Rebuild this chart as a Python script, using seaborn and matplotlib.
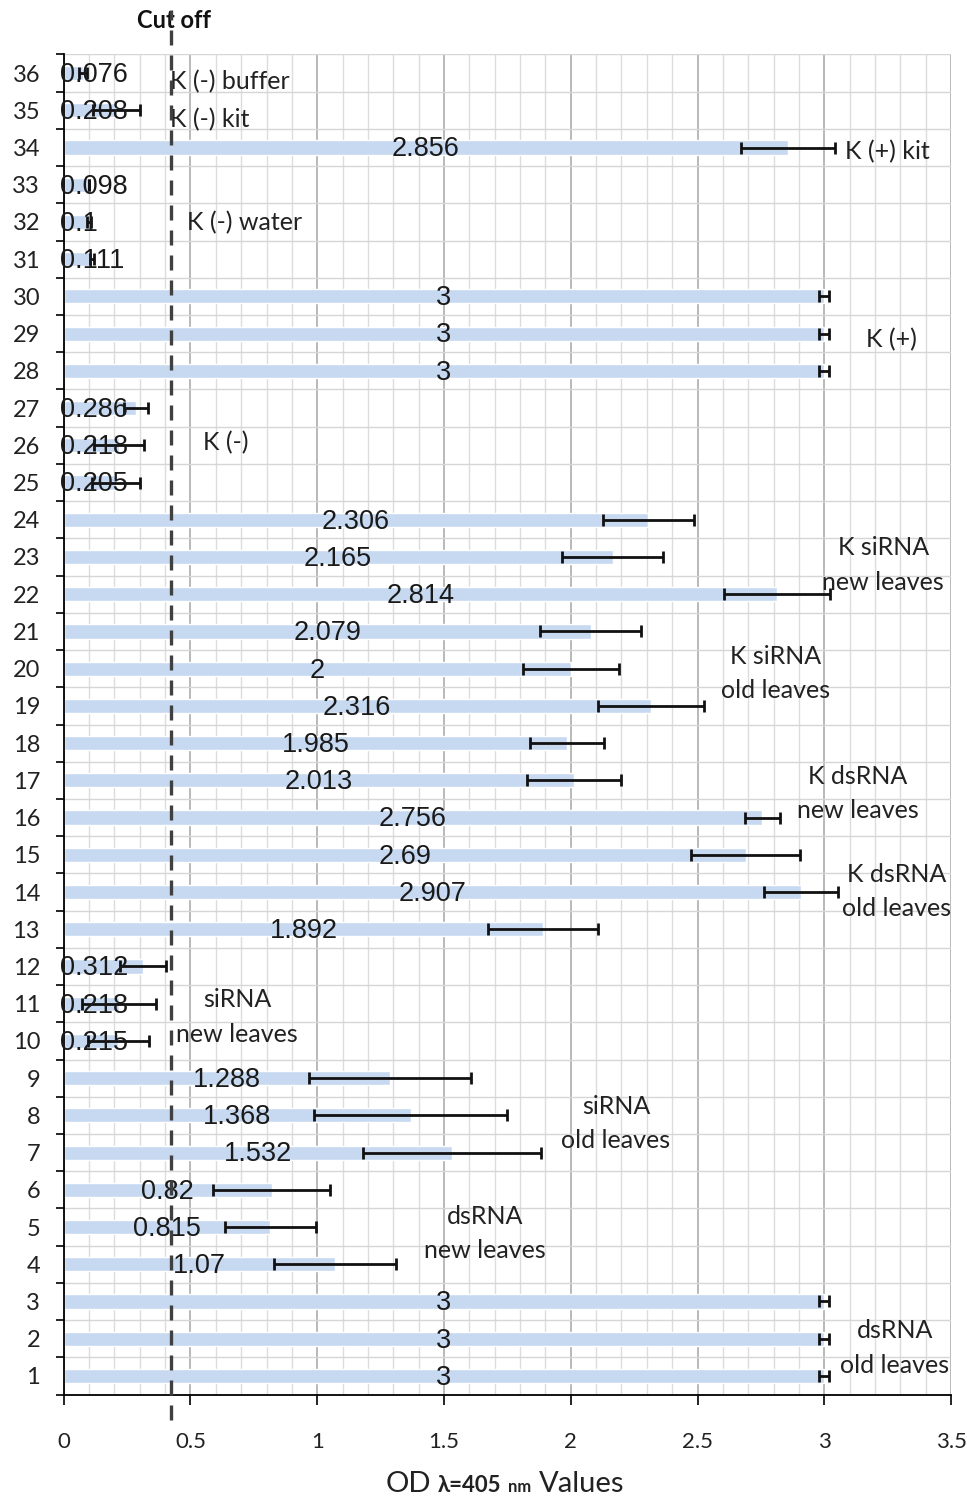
#!/usr/bin/env python3

import numpy as np
import pandas as pd
import matplotlib
matplotlib.use("Agg")
import matplotlib.pyplot as plt
from matplotlib.ticker import MultipleLocator, FixedLocator, NullFormatter
from matplotlib.offsetbox import TextArea, HPacker, AnchoredOffsetbox
import seaborn as sns

# sample numbers, bottom (1) to top (36)
SAMPLES = list(range(1, 37))
OD_VALUES = [3, 3, 3, 1.07, 0.815, 0.82, 1.532, 1.368, 1.288, 0.215, 0.218, 0.312,
             1.892, 2.907, 2.69, 2.756, 2.013, 1.985, 2.316, 2, 2.079, 2.814, 2.165, 2.306,
             0.205, 0.218, 0.286, 3, 3, 3, 0.111, 0.1, 0.098, 2.856, 0.208, 0.076]
OD_ERRORS = [0.02, 0.02, 0.02, 0.24, 0.18, 0.23, 0.35, 0.38, 0.32, 0.12, 0.145, 0.09,
             0.217, 0.146, 0.215, 0.07, 0.186, 0.147, 0.21, 0.19, 0.20, 0.21, 0.20, 0.18,
             0.095, 0.10, 0.047, 0.02, 0.02, 0.02, 0.008, 0.008, 0.0, 0.186, 0.093, 0.015]
CUTOFF = 0.424
X_TICKS = [0, 0.5, 1, 1.5, 2, 2.5, 3, 3.5]
X_TICK_LABELS = ["0", "0.5", "1", "1.5", "2", "2.5", "3", "3.5"]

GROUP_LABELS = ["K (-) buffer", "K (-) kit", "K (+) kit", "K (-) water", "K (+)", "K (-)",
                "K siRNA\nnew leaves", "K siRNA\nold leaves", "K dsRNA\nnew leaves",
                "K dsRNA\nold leaves", "siRNA\nnew leaves", "siRNA\nold leaves",
                "dsRNA\nnew leaves", "dsRNA\nold leaves"]
# layout for the group labels: (x in data units, sample-number height, alignment)
GROUP_POS = [(0.419, 35.76, "left"), (0.419, 34.74, "left"), (3.082, 33.90, "left"),
             (0.486, 31.97, "left"), (3.165, 28.83, "left"), (0.549, 26.06, "left"),
             (3.232, 22.78, "center"), (2.806, 19.87, "center"), (3.133, 16.65, "center"),
             (3.287, 14.01, "center"), (0.683, 10.64, "center"), (2.178, 7.78, "center"),
             (1.662, 4.83, "center"), (3.279, 1.75, "center")]

BAR_COLOR = "#C6D9F0"
LABEL_FONT = ["Lato", "DejaVu Sans"]
VALUE_FONT = ["Liberation Sans", "DejaVu Sans"]


def main():
    sns.set_theme(style="white")
    plt.rcParams["font.family"] = LABEL_FONT

    df = pd.DataFrame({"sample": [str(s) for s in SAMPLES], "od": OD_VALUES, "err": OD_ERRORS})
    order = [str(s) for s in reversed(SAMPLES)]
    df["pos"] = df["sample"].map({s: i for i, s in enumerate(order)})

    fig = plt.figure(figsize=(9.67, 15), dpi=100)
    ax = fig.add_axes([0.0659, 0.0703, 0.9176, 0.8934])

    sns.barplot(data=df, x="od", y="sample", order=order, orient="h",
                color=BAR_COLOR, saturation=1, width=0.38, errorbar=None, ax=ax, zorder=2)
    ax.errorbar(df["od"], df["pos"], xerr=df["err"], fmt="none", ecolor="#111111",
                elinewidth=2, capsize=4, capthick=2, zorder=3)

    # value labels
    for _, r in df.iterrows():
        txt = f"{r['od']:g}"
        if r["od"] < 0.35:
            ax.text(-0.015, r["pos"] + 0.05, txt, ha="left", va="center", fontsize=19.5,
                    family=VALUE_FONT, color="#1a1a1a", zorder=4)
        else:
            ax.text(r["od"] / 2, r["pos"] + 0.05, txt, ha="center", va="center", fontsize=19.5,
                    family=VALUE_FONT, color="#1a1a1a", zorder=4)

    # group labels
    for lab, (x, n, ha) in zip(GROUP_LABELS, GROUP_POS):
        ax.text(x, 36 - n, lab, ha=ha, va="center", fontsize=18, color="#222222",
                linespacing=1.6, multialignment="center", zorder=4)

    # cut off line
    ax.axvline(CUTOFF, ymin=-0.019, ymax=1.033, color="#404040", lw=2.4,
               dashes=(4.5, 3), clip_on=False, zorder=5)
    ax.text(CUTOFF + 0.012, -1.42, "Cut off", ha="center", va="center", fontsize=17,
            fontweight="bold", color="#111111")

    ax.set_xlim(0, 3.5)
    ax.set_ylim(35.5, -0.5)
    ax.set_xticks(X_TICKS)
    ax.set_xticklabels(X_TICK_LABELS, fontsize=16, color="#222222")
    ax.xaxis.set_minor_locator(MultipleLocator(0.1))
    ax.yaxis.set_minor_locator(FixedLocator(np.arange(-0.5, 36, 1)))
    ax.yaxis.set_minor_formatter(NullFormatter())
    ax.tick_params(axis="x", which="major", length=7, width=1.2, color="black",
                   direction="out", pad=20, bottom=True)
    ax.tick_params(axis="x", which="minor", length=0)
    ax.tick_params(axis="y", which="major", length=0, pad=17, labelsize=17, labelcolor="#222222")
    ax.tick_params(axis="y", which="minor", length=6, width=1.2, color="black",
                   direction="out", left=True)

    ax.set_axisbelow(True)
    ax.grid(which="major", axis="x", color="#a6a6a6", lw=1.1)
    ax.grid(which="minor", axis="x", color="#dcdcdc", lw=1)
    ax.grid(which="minor", axis="y", color="#d6d6d6", lw=1)
    ax.grid(which="major", axis="y", visible=False)

    for side in ["top", "right"]:
        ax.spines[side].set_visible(False)
    for side in ["left", "bottom"]:
        ax.spines[side].set_color("black")
        ax.spines[side].set_linewidth(1.3)

    ax.set_xlabel("")
    ax.set_ylabel("")

    # x axis title with mixed sizes
    parts = [TextArea("OD", textprops=dict(fontsize=21, color="#222222")),
             TextArea("λ=405", textprops=dict(fontsize=16, color="#222222", fontweight="bold")),
             TextArea("nm", textprops=dict(fontsize=12, color="#222222", fontweight="bold")),
             TextArea("Values", textprops=dict(fontsize=21, color="#222222"))]
    box = HPacker(children=parts, align="baseline", pad=0, sep=5)
    anchored = AnchoredOffsetbox(loc="lower center", child=box, pad=0, borderpad=0,
                                 frameon=False, bbox_to_anchor=(0.522, 0.002),
                                 bbox_transform=fig.transFigure)
    fig.add_artist(anchored)

    fig.savefig("out.png", dpi=100)
    plt.close(fig)


if __name__ == "__main__":
    main()
